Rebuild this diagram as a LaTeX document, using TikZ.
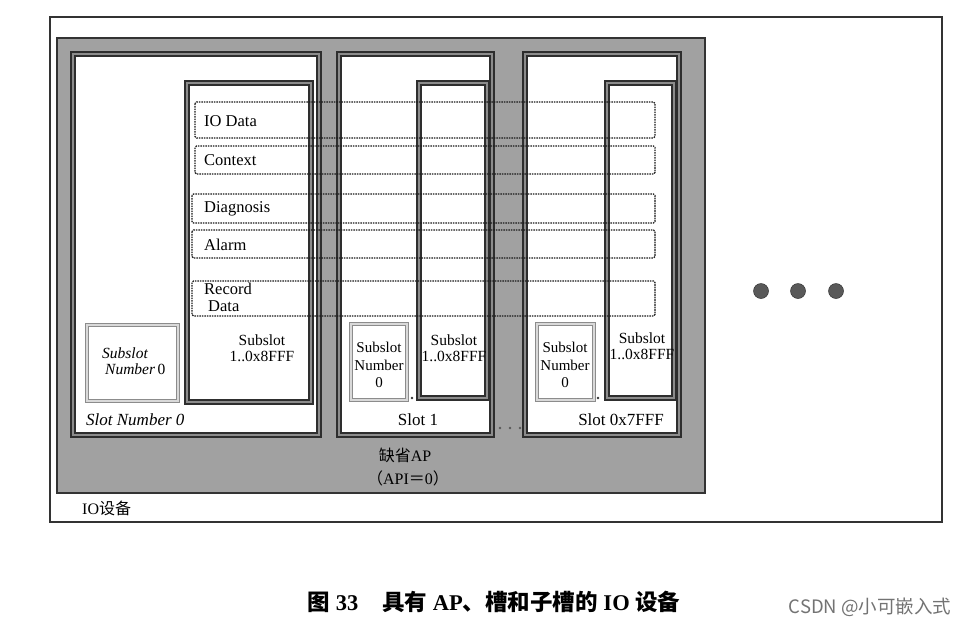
\documentclass[tikz,border=0pt]{standalone}
\usepackage{fontspec}
\setmainfont{Liberation Serif}
\newfontfamily\cjk{Noto Sans CJK SC}
\newfontfamily\wmfont{Noto Sans CJK SC}
\begin{document}
\begin{tikzpicture}[x=1pt,y=-1pt,
  slotbox/.style={draw=black!82, line width=2pt, double=black!45, double distance=1.4pt, fill=white},
  subbox/.style={draw=black!82, line width=2pt, double=black!45, double distance=1.4pt, fill=white},
  numbox/.style={draw=black!45, line width=1.5pt, double=black!15, double distance=1.6pt, fill=white},
  rowbox/.style={draw=black!90, dash pattern=on 1.6pt off 0.9pt, line width=1.2pt, rounded corners=1.5pt},
  lbl/.style={inner sep=0pt, font=\fontsize{16.5}{18}\selectfont, anchor=west},
  sublbl/.style={inner sep=0pt, font=\fontsize{15.5}{17}\selectfont, align=center},
  dot/.style={circle, fill=black!65, draw=black!80, line width=0.5pt, minimum size=15pt, inner sep=0pt},
  smalldot/.style={circle, fill=black!80, minimum size=2.8pt, inner sep=0pt}]
\useasboundingbox (0,0) rectangle (973,627);
\fill[white] (0,0) rectangle (973,627);
% IO device
\draw[black!80, line width=1.2pt] (50,17) rectangle (942,522);
% default AP
\draw[black!80, line width=1.2pt, fill=black!37] (57,38) rectangle (705,493);
% slots
\draw[slotbox] (73,54) rectangle (319,435);
\draw[slotbox] (339,54) rectangle (492,435);
\draw[slotbox] (525,54) rectangle (679,435);
% subslots
\draw[subbox] (187,83) rectangle (311,402);
\draw[subbox] (419,83) rectangle (487,398);
\draw[subbox] (607,83) rectangle (674,398);
% subslot number boxes
\draw[numbox] (87,325) rectangle (178,401);
\draw[numbox] (351,324) rectangle (407,400);
\draw[numbox] (537,324) rectangle (594,400);
% dotted rows
\draw[rowbox] (195,102) rectangle (655,138);
\draw[rowbox] (195,146) rectangle (655,174);
\draw[rowbox] (192,194) rectangle (655,223);
\draw[rowbox] (192,230) rectangle (655,258);
\draw[rowbox] (192,281) rectangle (655,316);
% row labels
\node[lbl] (iodata) at (204,121) {IO Data};
\node[lbl] (context) at (204,160) {Context};
\node[lbl] (diag) at (204,209) {Diagnosis};
\node[lbl] (alarm) at (204,245) {Alarm};
\node[lbl] (rec1) at (204,289) {Record};
\node[lbl] (rec2) at (208,306) {Data};
% subslot labels
\node[sublbl] (s0) at (262,348) {Subslot\\[-1pt]1..0x8FFF};
\node[sublbl] (s1) at (454,348) {Subslot\\[-1pt]1..0x8FFF};
\node[sublbl] (sN) at (642,346) {Subslot\\[-1pt]1..0x8FFF};
\node[sublbl, font=\fontsize{15.5}{17}\selectfont\itshape, align=left, anchor=west] (n0) at (102,361) {Subslot\\[-1pt]\hspace*{3pt}Number\,\upshape0};
\node[sublbl, font=\fontsize{15}{17.5}\selectfont] (n1) at (379,365) {Subslot\\Number\\0};
\node[sublbl, font=\fontsize{15}{17.5}\selectfont] (nN) at (565,365) {Subslot\\Number\\0};
\node[smalldot] (d1) at (412,398) {};
\node[smalldot] (d2) at (598,398) {};
% slot labels
\node[lbl, font=\fontsize{17}{19}\selectfont\itshape] (slot0) at (86,420) {Slot Number 0};
\node[inner sep=0pt, font=\fontsize{17}{19}\selectfont] (slot1) at (418,420) {Slot 1};
\node[inner sep=0pt, font=\fontsize{17}{19}\selectfont] (slotN) at (621,420) {Slot 0x7FFF};
\node[smalldot, fill=black!65, minimum size=2.6pt] (e1) at (500,428) {};
\node[smalldot, fill=black!65, minimum size=2.6pt] (e2) at (510,428) {};
\node[smalldot, fill=black!65, minimum size=2.6pt] (e3) at (520,428) {};
% AP label
\node[inner sep=0pt, font=\fontsize{16}{18}\selectfont] (ap) at (405,455) {{\cjk 缺省}AP};
\node[inner sep=0pt, font=\fontsize{16}{18}\selectfont] (api) at (408,478) {{\cjk （}API{\cjk ＝}0{\cjk ）}};
\node[lbl, font=\fontsize{16}{18}\selectfont] (io) at (82,508) {IO{\cjk 设备}};
% big dots
\node[dot] (b1) at (761,291) {};
\node[dot] (b2) at (798,291) {};
\node[dot] (b3) at (836,291) {};
% caption
\node[inner sep=0pt, font=\fontsize{22.5}{25}\selectfont\bfseries] (cap) at (494,602) {{\cjk 图} 33\hspace{24pt}{\cjk 具有} AP{\cjk 、槽和子槽的} IO {\cjk 设备}};
\node[inner sep=0pt, text=black!55, font=\fontsize{18.5}{21}\selectfont\wmfont] (wm) at (870,607) {CSDN @小可嵌入式};
\end{tikzpicture}
\end{document}
